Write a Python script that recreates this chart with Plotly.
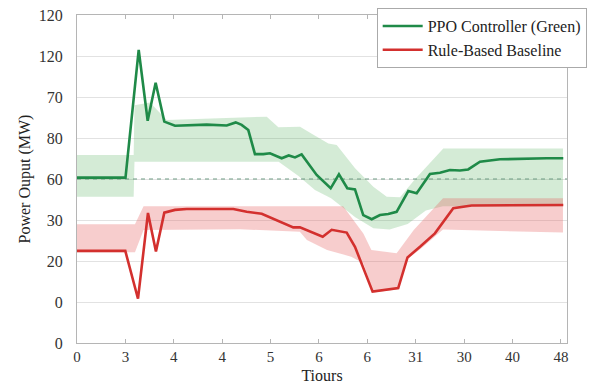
import plotly.graph_objects as go

# Tick labels (as printed on the chart)
x_tickvals = [0, 4.8, 9.6, 14.4, 19.2, 24, 28.8, 33.6, 38.4, 43.2, 48]
x_ticktext = ["0", "3", "4", "4", "5", "6", "6", "31", "30", "40", "48"]
y_tickvals = [0, 15, 30, 45, 60, 75, 90, 105, 120]
y_ticktext = ["0", "0", "20", "30", "60", "80", "70", "120", "120"]

# PPO controller line
ppo_x = [0, 4.81, 6.12, 7.01, 7.80, 8.66, 9.72, 12.86, 14.85, 15.74, 16.33, 16.99,
         17.65, 18.48, 19.14, 20.30, 21.0, 21.62, 22.28, 23.77, 25.16, 25.98, 26.81,
         27.57, 28.39, 29.23, 30.05, 30.87, 31.7, 32.86, 33.69, 35.01, 36.0, 36.99,
         37.98, 38.8, 39.97, 41.95, 46.58, 48.23]
ppo_y = [60.5, 60.5, 107.2, 81.3, 95.2, 81.0, 79.5, 79.9, 79.6, 80.7, 79.8, 77.9,
         69.1, 69.1, 69.4, 67.6, 68.6, 67.9, 69.0, 61.5, 56.6, 61.7, 56.6,
         56.2, 46.8, 45.3, 46.8, 47.2, 48.0, 55.6, 54.8, 61.8, 62.3, 63.3,
         63.1, 63.5, 66.3, 67.2, 67.6, 67.6]

# PPO band
ppo_band_hi_x = [0, 5.62, 5.7, 7.24, 8.9, 18.82, 19.97, 22.12, 23.28, 24.93, 25.76,
                 27.58, 29.39, 30.72, 32.04, 33.5, 36.33, 48.2]
ppo_band_hi = [68.8, 68.8, 87.0, 88.0, 81.6, 82.8, 78.9, 79.1, 76.6, 73.0, 72.4,
               63.9, 57.2, 53.5, 53.3, 59.8, 71.2, 71.2]
ppo_band_lo_x = [0, 5.62, 5.7, 20.0, 22.0, 23.6, 25.2, 27.6, 29.4, 31.0, 32.8,
                 34.6, 36.3, 48.2]
ppo_band_lo = [53.5, 53.5, 66.3, 66.3, 61.0, 56.0, 53.0, 46.0, 42.0, 41.5, 43.5,
               48.5, 50.0, 50.0]

# Rule-based baseline line
rb_x = [0, 4.79, 6.05, 7.04, 7.83, 8.66, 9.72, 10.88, 15.5, 16.83, 18.32, 19.8,
        21.45, 22.11, 24.37, 25.26, 26.75, 27.57, 29.32, 31.86, 32.78, 34.02, 35.5,
        37.32, 39.14, 48.23]
rb_y = [33.7, 33.7, 16.2, 47.6, 33.5, 47.7, 48.7, 49.0, 49.0, 48.0, 47.3, 45.0,
        42.3, 42.3, 38.9, 41.4, 40.4, 35.2, 18.8, 20.1, 31.3, 35.2, 40.1,
        49.3, 50.3, 50.5]

# Rule-based band
rb_band_hi_x = [0, 5.75, 6.6, 26.4, 28.4, 29.2, 31.7, 33.4, 36.3, 48.2]
rb_band_hi = [43.4, 43.4, 50.0, 50.0, 40.1, 34.0, 32.8, 41.3, 53.0, 53.0]
rb_band_lo_x = [0, 5.75, 6.6, 16.2, 22.1, 22.8, 24.8, 27.2, 28.4, 29.4, 31.9,
                32.7, 34.1, 35.6, 36.3, 48.2]
rb_band_lo = [33.2, 33.2, 41.3, 41.6, 40.7, 37.7, 34.0, 31.6, 29.2, 18.5, 19.7,
              30.5, 34.5, 39.5, 41.5, 40.4]

reference_level = 60

GREEN = "#1f8a48"
RED = "#d3302e"
SERIF = "Liberation Serif"

fig = go.Figure()

# bands
fig.add_trace(go.Scatter(x=ppo_band_lo_x, y=ppo_band_lo, mode="lines",
                         line=dict(width=0), showlegend=False, hoverinfo="skip"))
fig.add_trace(go.Scatter(x=ppo_band_hi_x, y=ppo_band_hi, mode="lines",
                         line=dict(width=0), fill="tonexty",
                         fillcolor="rgba(60,165,70,0.22)", showlegend=False,
                         hoverinfo="skip"))
fig.add_trace(go.Scatter(x=rb_band_lo_x, y=rb_band_lo, mode="lines",
                         line=dict(width=0), showlegend=False, hoverinfo="skip"))
fig.add_trace(go.Scatter(x=rb_band_hi_x, y=rb_band_hi, mode="lines",
                         line=dict(width=0), fill="tonexty",
                         fillcolor="rgba(228,90,90,0.30)", showlegend=False,
                         hoverinfo="skip"))

# dashed reference line
fig.add_trace(go.Scatter(x=[0, 48.6], y=[reference_level, reference_level],
                         mode="lines",
                         line=dict(color="#6f9c84", width=1.2, dash="4px,4px"),
                         showlegend=False, hoverinfo="skip"))

# main lines
fig.add_trace(go.Scatter(x=ppo_x, y=ppo_y, mode="lines", name="PPO Controller (Green)",
                         line=dict(color=GREEN, width=2.6)))
fig.add_trace(go.Scatter(x=rb_x, y=rb_y, mode="lines", name="Rule-Based Baseline",
                         line=dict(color=RED, width=2.6)))

fig.update_layout(
    width=590, height=390,
    margin=dict(l=77, r=23, t=15, b=47, autoexpand=False),
    paper_bgcolor="white", plot_bgcolor="white",
    font=dict(family=SERIF, size=13, color="#333333"),
    showlegend=True,
    legend=dict(x=0.6116, y=1.021, xanchor="left", yanchor="top",
                bgcolor="white", bordercolor="#aaaaaa", borderwidth=1,
                font=dict(family=SERIF, size=16, color="#222222"),
                traceorder="normal", tracegroupgap=0, itemwidth=40),
)
fig.update_xaxes(
    range=[0, 48.6], tickvals=x_tickvals, ticktext=x_ticktext,
    showgrid=False, zeroline=False, automargin=False,
    showline=True, linecolor="#b5b5b5", linewidth=1, mirror="ticks",
    ticks="inside", ticklen=4, tickcolor="#b5b5b5",
    tickfont=dict(family=SERIF, size=15, color="#333333"),
    title=dict(text="Tiours", font=dict(family=SERIF, size=16, color="#222222"),
               standoff=5),
)
fig.update_yaxes(
    range=[0, 120], tickvals=y_tickvals, ticktext=y_ticktext,
    showgrid=True, gridcolor="#e2e2e2", gridwidth=1, zeroline=False, automargin=False,
    showline=True, linecolor="#b5b5b5", linewidth=1, mirror=True,
    ticks="", ticklabelstandoff=10,
    tickfont=dict(family=SERIF, size=16, color="#333333"),
    title=dict(text="Power Ouput (MW)", font=dict(family=SERIF, size=16, color="#222222"),
               standoff=4),
)

fig.write_html("out.html", config={"displayModeBar": False},
               post_script="document.body.style.margin='0px';document.body.style.overflow='hidden';")
